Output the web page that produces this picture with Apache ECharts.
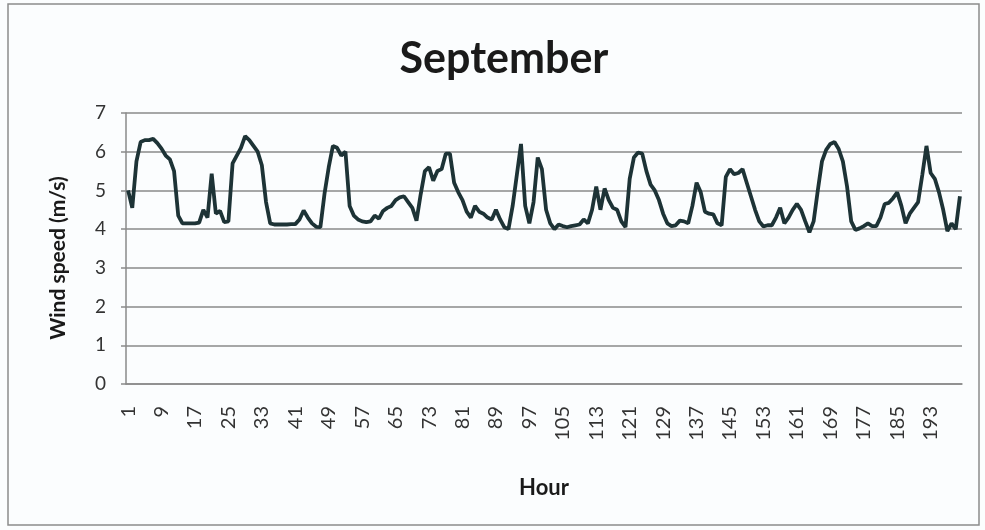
<!DOCTYPE html>
<html>
<head>
<meta charset="utf-8">
<script src="https://cdn.jsdelivr.net/npm/echarts@6/dist/echarts.min.js"></script>
<style>
  html, body { margin: 0; padding: 0; background: #fbfdfe; }
  #chart { width: 985px; height: 530px; }
</style>
</head>
<body>
<div id="chart"></div>
<script>
// Hourly wind speed for September (m/s), hours 1..200
const windSpeed = [
  5.0, 4.55, 5.75, 6.25, 6.3, 6.3, 6.33, 6.22, 6.08, 5.9,
  5.8, 5.5, 4.35, 4.15, 4.15, 4.15, 4.15, 4.17, 4.5, 4.3,
  5.43, 4.4, 4.47, 4.18, 4.2, 5.7, 5.9, 6.1, 6.4, 6.3,
  6.15, 6.0, 5.65, 4.7, 4.15, 4.12, 4.12, 4.12, 4.12, 4.13,
  4.13, 4.25, 4.48, 4.3, 4.15, 4.06, 4.05, 4.92, 5.6, 6.15,
  6.1, 5.9, 6.0, 4.6, 4.35, 4.25, 4.2, 4.18, 4.2, 4.35,
  4.27, 4.47, 4.55, 4.6, 4.75, 4.82, 4.85, 4.7, 4.55, 4.22,
  4.9, 5.5, 5.6, 5.25, 5.5, 5.55, 5.95, 5.95, 5.2, 4.95,
  4.75, 4.45, 4.3, 4.6, 4.45, 4.4, 4.3, 4.25, 4.5, 4.25,
  4.05, 4.0, 4.6, 5.4, 6.2, 4.6, 4.15, 4.7, 5.85, 5.55,
  4.5, 4.15, 4.0, 4.12, 4.08, 4.05, 4.08, 4.1, 4.12, 4.25,
  4.15, 4.5, 5.1, 4.5, 5.05, 4.75, 4.55, 4.5, 4.2, 4.05,
  5.3, 5.85, 5.98, 5.95, 5.5, 5.15, 5.0, 4.75, 4.4, 4.15,
  4.08, 4.1, 4.22, 4.2, 4.15, 4.6, 5.2, 4.95, 4.45, 4.4,
  4.38, 4.15, 4.1, 5.35, 5.55, 5.42, 5.45, 5.55, 5.2, 4.85,
  4.5, 4.2, 4.07, 4.1, 4.1, 4.3, 4.55, 4.15, 4.3, 4.5,
  4.65, 4.5, 4.2, 3.92, 4.2, 5.0, 5.75, 6.05, 6.2, 6.25,
  6.07, 5.75, 5.1, 4.2, 3.98, 4.02, 4.08, 4.15, 4.08, 4.08,
  4.3, 4.65, 4.68, 4.8, 4.95, 4.6, 4.15, 4.4, 4.55, 4.7,
  5.4, 6.15, 5.45, 5.3, 4.95, 4.5, 3.95, 4.15, 4.0, 4.85
];

// Hour labels 1..200
const hours = windSpeed.map((_, i) => String(i + 1));

// Value-axis ticks
const yTicks = [0, 1, 2, 3, 4, 5, 6, 7];

const FONT = 'Lato, "Open Sans", sans-serif';

const chart = echarts.init(document.getElementById('chart'), null, { renderer: 'canvas' });

chart.setOption({
  backgroundColor: '#fbfdfe',
  animation: false,
  title: {
    text: 'September',
    left: 499,
    top: 33,
    textAlign: 'center',
    textStyle: { fontFamily: FONT, fontWeight: 'bold', fontSize: 43, color: '#1a1a1a' }
  },
  graphic: [
    {
      type: 'rect',
      shape: { x: 8, y: 4, width: 971, height: 521 },
      style: { fill: 'none', stroke: '#8c8c8c', lineWidth: 1.5 },
      silent: true
    },
    {
      // value-axis title, rotated to read bottom-to-top
      type: 'text',
      x: 58,
      y: 258,
      rotation: Math.PI / 2,
      style: {
        text: 'Wind speed (m/s)',
        fontFamily: FONT,
        fontWeight: 'bold',
        fontSize: 21,
        fill: '#1a1a1a',
        align: 'center',
        verticalAlign: 'middle'
      },
      silent: true
    }
  ],
  grid: { left: 126, right: 23, top: 113, bottom: 146 },
  xAxis: {
    type: 'category',
    data: hours,
    boundaryGap: true,
    name: 'Hour',
    nameLocation: 'middle',
    nameGap: 93,
    nameTextStyle: { fontFamily: FONT, fontWeight: 'bold', fontSize: 22, color: '#1a1a1a' },
    axisLine: { show: true, lineStyle: { color: '#8a8a8a', width: 1.5 } },
    axisTick: { show: false },
    axisLabel: {
      interval: 7,
      rotate: 90,
      margin: 22,
      fontFamily: FONT,
      fontSize: 20,
      color: '#333'
    },
    splitLine: { show: false }
  },
  yAxis: {
    type: 'value',
    min: yTicks[0],
    max: yTicks[yTicks.length - 1],
    interval: 1,
    axisLine: { show: true, lineStyle: { color: '#8a8a8a', width: 1.5 } },
    axisTick: { show: true, length: 5, lineStyle: { color: '#8a8a8a', width: 1.5 } },
    axisLabel: { margin: 20, fontFamily: FONT, fontSize: 19, color: '#333' },
    splitLine: { show: true, lineStyle: { color: '#8a8a8a', width: 1.5 } }
  },
  series: [{
    type: 'line',
    data: windSpeed,
    symbol: 'none',
    smooth: false,
    lineStyle: { color: '#1d3336', width: 3.8 },
    itemStyle: { color: '#1d3336' }
  }]
});
</script>
</body>
</html>
